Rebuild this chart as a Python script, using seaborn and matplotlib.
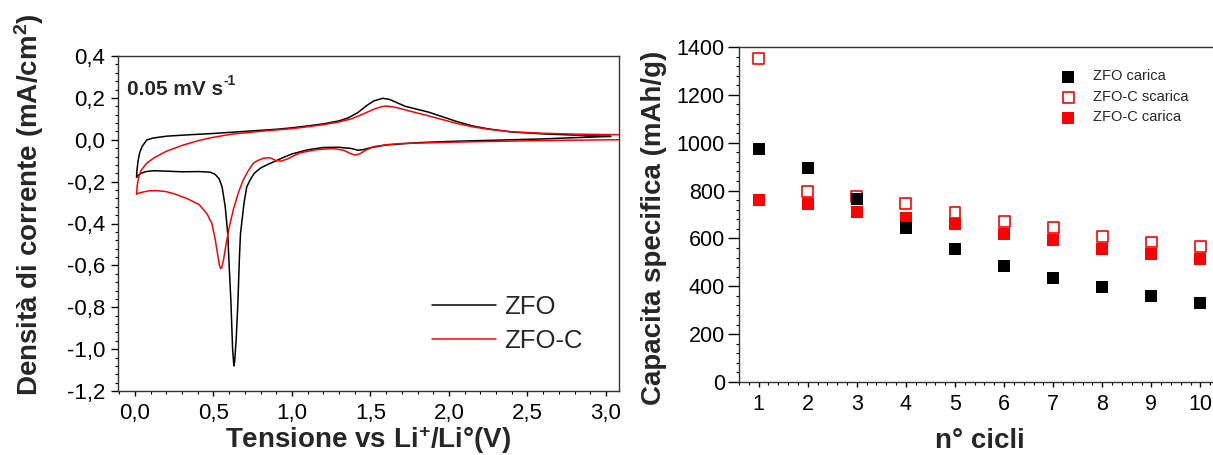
import numpy as np
import matplotlib
matplotlib.use("Agg")
import matplotlib.pyplot as plt
import seaborn as sns
from matplotlib.ticker import FixedLocator, AutoMinorLocator, FuncFormatter

# ---------------- data: cyclic voltammetry (left panel) ----------------
zfo_v = [3.03, 2.80, 2.60, 2.40, 2.20, 2.00, 1.80, 1.60, 1.50, 1.45, 1.42, 1.38,
         1.30, 1.20, 1.10, 1.00, 0.95, 0.90, 0.84, 0.80, 0.76, 0.735, 0.712,
         0.695, 0.672, 0.665, 0.656, 0.645, 0.635, 0.630, 0.622, 0.611, 0.600,
         0.591, 0.575, 0.555, 0.535, 0.510, 0.480, 0.41, 0.30, 0.20, 0.12,
         0.07, 0.04, 0.02, 0.01,
         0.012, 0.02, 0.03, 0.045, 0.075, 0.115, 0.20, 0.35, 0.50, 0.70, 0.90,
         1.00, 1.10, 1.20, 1.30, 1.36, 1.42, 1.47, 1.52, 1.578, 1.62, 1.66,
         1.72, 1.80, 1.87, 1.95, 2.05, 2.15, 2.25, 2.40, 2.60, 2.80, 3.03]
zfo_j = [0.016, 0.010, 0.004, 0.000, -0.004, -0.008, -0.014, -0.025, -0.038,
         -0.048, -0.050, -0.042, -0.036, -0.037, -0.048, -0.068, -0.083,
         -0.100, -0.120, -0.135, -0.160, -0.190, -0.225, -0.300, -0.450,
         -0.570, -0.770, -0.950, -1.060, -1.080, -1.000, -0.770, -0.600,
         -0.450, -0.320, -0.225, -0.185, -0.165, -0.155, -0.152, -0.153,
         -0.150, -0.148, -0.152, -0.160, -0.170, -0.180,
         -0.150, -0.100, -0.062, -0.033, -0.001, 0.008, 0.017, 0.024, 0.030,
         0.040, 0.050, 0.057, 0.066, 0.076, 0.090, 0.105, 0.130, 0.160, 0.185,
         0.198, 0.193, 0.180, 0.160, 0.145, 0.132, 0.112, 0.087, 0.066, 0.052,
         0.037, 0.028, 0.022, 0.016]

zfoc_v = [3.09, 2.80, 2.50, 2.20, 2.00, 1.80, 1.69, 1.60, 1.52, 1.47, 1.43,
          1.40, 1.37, 1.33, 1.26, 1.15, 1.05, 0.97, 0.93, 0.90, 0.86, 0.82,
          0.78, 0.754, 0.72, 0.69, 0.66, 0.626, 0.60, 0.58, 0.565, 0.553,
          0.546, 0.538, 0.525, 0.51, 0.49, 0.46, 0.41, 0.33, 0.25, 0.20, 0.14,
          0.09, 0.05, 0.02, 0.01,
          0.015, 0.025, 0.04, 0.075, 0.12, 0.20, 0.30, 0.41, 0.50, 0.62, 0.84,
          1.00, 1.10, 1.20, 1.30, 1.38, 1.45, 1.52, 1.57, 1.60, 1.66, 1.75,
          1.85, 1.95, 2.05, 2.15, 2.25, 2.40, 2.60, 2.80, 3.09]
zfoc_j = [0.000, -0.002, -0.005, -0.009, -0.012, -0.016, -0.018, -0.024,
          -0.033, -0.050, -0.068, -0.073, -0.065, -0.050, -0.042, -0.048,
          -0.063, -0.092, -0.102, -0.100, -0.086, -0.088, -0.100, -0.112,
          -0.150, -0.192, -0.250, -0.335, -0.420, -0.500, -0.570, -0.610,
          -0.615, -0.600, -0.540, -0.470, -0.400, -0.355, -0.310, -0.280,
          -0.258, -0.248, -0.243, -0.244, -0.250, -0.256, -0.260,
          -0.215, -0.175, -0.145, -0.112, -0.087, -0.055, -0.027, -0.003,
          0.012, 0.027, 0.043, 0.053, 0.062, 0.072, 0.085, 0.100, 0.122,
          0.145, 0.158, 0.161, 0.155, 0.137, 0.118, 0.098, 0.078, 0.062,
          0.050, 0.038, 0.031, 0.027, 0.024]

cv_xticks = [0.0, 0.5, 1.0, 1.5, 2.0, 2.5, 3.0]
cv_yticks = [0.4, 0.2, 0.0, -0.2, -0.4, -0.6, -0.8, -1.0, -1.2]

# ---------------- data: cycling capacity (right panel) ----------------
cycles = [1, 2, 3, 4, 5, 6, 7, 8, 9, 10]
zfo_carica = [975, 895, 765, 645, 555, 485, 435, 395, 360, 330]
zfoc_scarica = [1350, 795, 775, 745, 710, 672, 645, 610, 585, 567]
zfoc_carica = [760, 742, 712, 685, 662, 620, 592, 557, 535, 512]
cap_yticks = [0, 200, 400, 600, 800, 1000, 1200, 1400]

# ---------------- style ----------------
sns.set_style("ticks")
plt.rcParams['font.family'] = ['Liberation Sans', 'DejaVu Sans']
plt.rcParams['mathtext.fontset'] = 'custom'
plt.rcParams['mathtext.rm'] = 'Liberation Sans'
plt.rcParams['mathtext.it'] = 'Liberation Sans:italic'
plt.rcParams['mathtext.bf'] = 'Liberation Sans:bold'

W, H = 1213, 455
PX = 0.72  # points per pixel at dpi 100
fig = plt.figure(figsize=(W / 100, H / 100), dpi=100)
ax1 = fig.add_axes([118 / W, 1 - 391 / H, (619 - 118) / W, (391 - 56) / H])
ax2 = fig.add_axes([739 / W, 1 - 382 / H, (1225 - 739) / W, (382 - 47) / H])

# ---------------- left panel ----------------
sns.lineplot(x=zfo_v, y=zfo_j, sort=False, estimator=None, color='black',
             linewidth=1.1, ax=ax1, label='ZFO')
sns.lineplot(x=zfoc_v, y=zfoc_j, sort=False, estimator=None, color='#ff0000',
             linewidth=1.1, ax=ax1, label='ZFO-C')
ax1.set_xlim(-0.108, 3.083)
ax1.set_ylim(-1.2, 0.4)
ax1.xaxis.set_major_locator(FixedLocator(cv_xticks))
ax1.yaxis.set_major_locator(FixedLocator(cv_yticks))
comma = FuncFormatter(lambda v, p: f"{v:.1f}".replace('.', ','))
ax1.xaxis.set_major_formatter(comma)
ax1.yaxis.set_major_formatter(comma)

ax1.set_xlabel(r"Tensione vs Li$^{\mathbf{+}}$/Li°(V)", fontsize=20,
               fontweight='bold')
ax1.set_ylabel(r"Densità di corrente (mA/cm$^{\mathbf{2}}$)", fontsize=20,
               fontweight='bold')
ax1.xaxis.set_label_coords(0.5, -0.098)
ax1.yaxis.set_label_coords(-0.144, 0.555)
t_rate = ax1.text(0.018, 0.9, "0.05 mV s", transform=ax1.transAxes,
                  fontsize=15, fontweight='bold', va='center', ha='left')
ax1.annotate("-1", xy=(1.0, 1.0), xycoords=t_rate, xytext=(0.5, -1),
             textcoords='offset points', fontsize=10, fontweight='bold',
             ha='left', va='center')
ax1.legend(loc='center left', bbox_to_anchor=(0.627, 0.199), frameon=False,
           fontsize=18.5, handlelength=2.5, handletextpad=0.3,
           labelspacing=0.4, borderpad=0, borderaxespad=0)

# ---------------- right panel ----------------
sns.scatterplot(x=cycles, y=zfo_carica, marker='s', s=80, color='black',
                edgecolor='black', linewidth=0, ax=ax2, label='ZFO carica',
                zorder=4)
sns.scatterplot(x=cycles, y=zfoc_scarica, marker='s', s=62, color='#ff0000',
                facecolor='none', edgecolor='#ff0000', linewidth=1.2, ax=ax2,
                label='ZFO-C scarica', zorder=2)
sns.scatterplot(x=cycles, y=zfoc_carica, marker='s', s=80, color='#ff0000',
                edgecolor='#ff0000', linewidth=0, ax=ax2, label='ZFO-C carica',
                zorder=3)
ax2.set_xlim(0.6, 10.5)
ax2.set_ylim(0, 1400)
ax2.xaxis.set_major_locator(FixedLocator(cycles))
ax2.yaxis.set_major_locator(FixedLocator(cap_yticks))
ax2.set_xlabel("n° cicli", fontsize=20, fontweight='bold')
ax2.set_ylabel("Capacita specifica (mAh/g)", fontsize=20, fontweight='bold')
ax2.xaxis.set_label_coords(0.496, -0.138)
ax2.yaxis.set_label_coords(-0.148, 0.461)
ax2.legend(loc='center left', bbox_to_anchor=(0.6626, 0.851), frameon=False,
           fontsize=10.5, handlelength=1.0, handletextpad=1.2,
           labelspacing=0.45, borderpad=0, borderaxespad=0)
ax2.spines['right'].set_visible(False)

for ax, lsize, ylen, ypad in ((ax1, 16, 7, 6), (ax2, 15.5, 11, 3)):
    ax.xaxis.set_minor_locator(AutoMinorLocator(5))
    ax.yaxis.set_minor_locator(AutoMinorLocator(5))
    ax.tick_params(which='both', direction='out', colors='black',
                   top=False, right=False)
    ax.tick_params(axis='x', which='major', length=5 * PX, width=1,
                   labelsize=lsize, pad=7 * PX)
    ax.tick_params(axis='x', which='minor', length=3 * PX, width=0.8)
    ax.tick_params(axis='y', which='major', length=ylen * PX, width=1,
                   labelsize=lsize, pad=ypad * PX)
    ax.tick_params(axis='y', which='minor', length=3.5 * PX, width=0.8)
    for sp in ax.spines.values():
        sp.set_color('#333333')
        sp.set_linewidth(1.0)

fig.savefig("out.png", dpi=100)
